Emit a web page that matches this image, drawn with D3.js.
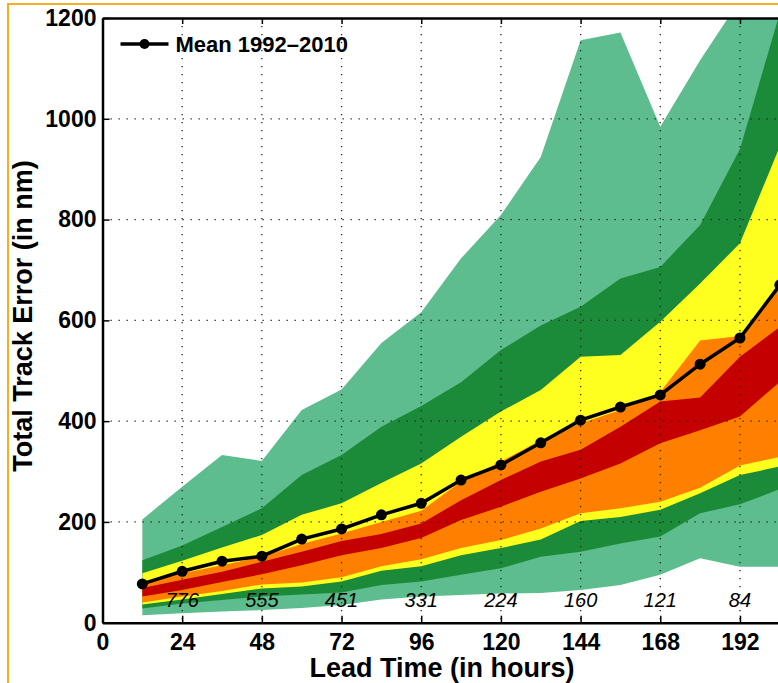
<!DOCTYPE html>
<html>
<head>
<meta charset="utf-8">
<script src="https://cdn.jsdelivr.net/npm/d3@7"></script>
<style>
  body { margin: 0; background: #fff; }
  svg { display: block; font-family: "Liberation Sans", Arial, sans-serif; }
</style>
</head>
<body>
<svg id="chart" width="778" height="683"></svg>
<script>
// lead times (hours) and track error percentiles (nm)
const hours = [12, 24, 36, 48, 60, 72, 84, 96, 108, 120, 132, 144, 156, 168, 180, 192, 204];
const meanErr = [77, 102, 122, 132, 166, 186, 214, 237, 283, 313, 357, 402, 428, 452, 513, 565, 670];

const lgHigh  = [205, 270, 333, 321, 422, 463, 555, 616, 723, 809, 924, 1156, 1171, 984, 1116, 1236, 1450];
const dgHigh  = [124, 153, 190, 227, 293, 333, 389, 430, 477, 541, 590, 627, 683, 706, 789, 940, 1210];
const yelHigh = [98, 123, 149, 174, 214, 237, 277, 316, 369, 419, 462, 528, 531, 597, 673, 753, 945];
const orHigh  = [79, 98, 114, 131, 156, 177, 200, 222, 280, 320, 362, 396, 422, 458, 560, 569, 672];
const redHigh = [69, 85, 101, 121, 141, 162, 176, 197, 243, 283, 320, 343, 389, 439, 447, 528, 587];
const redLow  = [52, 65, 81, 96, 114, 134, 148, 168, 204, 230, 260, 286, 316, 356, 382, 409, 478];
const orLow   = [40, 52, 63, 76, 80, 90, 112, 126, 148, 164, 187, 217, 227, 240, 268, 312, 329];
const yelLow  = [36, 46, 57, 68, 72, 82, 103, 112, 134, 148, 165, 202, 210, 224, 257, 293, 310];
const dgLow   = [28, 38, 45, 52, 56, 60, 75, 82, 95, 108, 131, 141, 157, 171, 217, 235, 265];
const lgLow   = [15, 19, 22, 25, 29, 35, 46, 52, 55, 58, 59, 65, 75, 95, 128, 111, 111];

// number of cases per lead time
const countHours = [24, 48, 72, 96, 120, 144, 168, 192];
const counts = ["776", "555", "451", "331", "224", "160", "121", "84"];

const xTicks = [0, 24, 48, 72, 96, 120, 144, 168, 192];
const yTicks = [0, 200, 400, 600, 800, 1000, 1200];

const svg = d3.select("#chart");
const margin = {top: 18, left: 102.5};
const width = 677.3;
const height = 604.7;

// page border
svg.append("line")
    .attr("x1", 8).attr("x2", 8).attr("y1", 4).attr("y2", 683)
    .attr("stroke", "#f0b020").attr("stroke-width", 2);
svg.append("line")
    .attr("x1", 7).attr("x2", 778).attr("y1", 4).attr("y2", 4)
    .attr("stroke", "#f0b020").attr("stroke-width", 2);

const chart = svg.append("g")
    .attr("transform", `translate(${margin.left},${margin.top})`);

const xScale = d3.scaleLinear().domain([0, 204]).range([0, width]);
const yScale = d3.scaleLinear().domain([0, 1200]).range([height, 0]);

chart.append("clipPath").attr("id", "plotclip")
  .append("rect").attr("width", width).attr("height", height);

const bands = [
    {lo: lgLow, hi: lgHigh, color: "#5ebd8e"},
    {lo: dgLow, hi: dgHigh, color: "#1c8b39"},
    {lo: yelLow, hi: yelHigh, color: "#ffff1f"},
    {lo: orLow, hi: orHigh, color: "#ff8000"},
    {lo: redLow, hi: redHigh, color: "#c40000"}
];

const area = d3.area()
    .x(i => xScale(hours[i]));

const plot = chart.append("g").attr("clip-path", "url(#plotclip)");

bands.forEach(b => {
    plot.append("path")
        .datum(d3.range(hours.length))
        .attr("fill", b.color)
        .attr("d", area.y0(i => yScale(b.lo[i])).y1(i => yScale(b.hi[i])));
});

// dotted grid
const grid = chart.append("g")
    .attr("stroke", "#222")
    .attr("stroke-width", 1.3)
    .attr("stroke-dasharray", "1.3,6.7");
grid.selectAll(".gx").data(xTicks.slice(1)).join("line")
    .attr("x1", d => xScale(d)).attr("x2", d => xScale(d))
    .attr("y1", 0).attr("y2", height);
grid.selectAll(".gy").data(yTicks.slice(1, -1)).join("line")
    .attr("x1", 0).attr("x2", width)
    .attr("y1", d => yScale(d)).attr("y2", d => yScale(d));

// mean line
const line = d3.line()
    .x((_, i) => xScale(hours[i]))
    .y(d => yScale(d));

plot.append("path")
    .datum(meanErr)
    .attr("fill", "none")
    .attr("stroke", "#000")
    .attr("stroke-width", 3.5)
    .attr("d", line);

plot.selectAll(".dot").data(meanErr).join("circle")
    .attr("cx", (_, i) => xScale(hours[i]))
    .attr("cy", d => yScale(d))
    .attr("r", 5.5)
    .attr("fill", "#000");

// case counts
chart.selectAll(".cnt").data(countHours).join("text")
    .attr("x", d => xScale(d))
    .attr("y", height - 16)
    .attr("text-anchor", "middle")
    .style("font-size", "20px")
    .style("font-style", "italic")
    .text((_, i) => counts[i]);

// axes
const xAxis = chart.append("g")
    .attr("transform", `translate(0,${height})`)
    .call(d3.axisBottom(xScale).tickValues(xTicks).tickSize(-7).tickSizeOuter(0).tickPadding(11));

const topAxis = chart.append("g")
    .call(d3.axisTop(xScale).tickValues(xTicks).tickSize(-6).tickSizeOuter(0).tickFormat(""));

const yAxis = chart.append("g")
    .call(d3.axisLeft(yScale).tickValues(yTicks).tickFormat(d3.format("d"))
        .tickSize(-7).tickSizeOuter(0).tickPadding(6));

[xAxis, topAxis, yAxis].forEach(a => {
    a.select(".domain").attr("stroke", "#000").attr("stroke-width", 2.5);
    a.selectAll(".tick line").attr("stroke", "#000").attr("stroke-width", 1.5);
    a.selectAll("text")
        .attr("fill", "#000")
        .style("font-size", "23px")
        .style("font-weight", "bold")
        .style("font-family", "'Liberation Sans', Arial, sans-serif");
});

// legend
const legend = chart.append("g");
legend.append("line")
    .attr("x1", 18).attr("x2", 66).attr("y1", 26).attr("y2", 26)
    .attr("stroke", "#000").attr("stroke-width", 3.5);
legend.append("circle")
    .attr("cx", 42).attr("cy", 26).attr("r", 5).attr("fill", "#000");
legend.append("text")
    .attr("x", 73).attr("y", 34)
    .style("font-size", "22px")
    .style("font-weight", "bold")
    .text("Mean 1992\u20132010");

// axis titles
svg.append("text")
    .attr("x", 442)
    .attr("y", 677)
    .attr("text-anchor", "middle")
    .style("font-size", "27px")
    .style("font-weight", "bold")
    .text("Lead Time (in hours)");

svg.append("text")
    .attr("transform", "translate(32,316) rotate(-90)")
    .attr("text-anchor", "middle")
    .style("font-size", "27px")
    .style("font-weight", "bold")
    .text("Total Track Error (in nm)");
</script>
</body>
</html>
